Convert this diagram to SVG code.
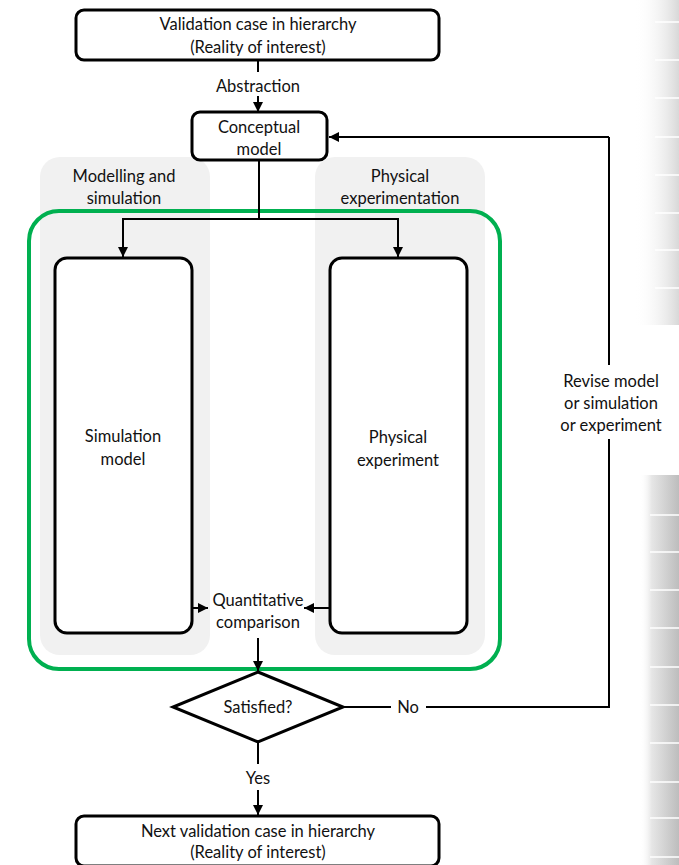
<svg xmlns="http://www.w3.org/2000/svg" width="679" height="865" viewBox="0 0 679 865">
<defs>
<marker id="ah" viewBox="0 0 10 10" refX="10" refY="5" markerWidth="10" markerHeight="10" markerUnits="userSpaceOnUse" orient="auto">
<path d="M0,0 L10,5 L0,10 z" fill="#000"/>
</marker>
<linearGradient id="edge1" x1="0" y1="0" x2="1" y2="0">
<stop offset="0" stop-color="#ffffff" stop-opacity="0"/>
<stop offset="1" stop-color="#d8d8d8"/>
</linearGradient>
<linearGradient id="edge2" x1="0" y1="0" x2="1" y2="0">
<stop offset="0" stop-color="#ffffff" stop-opacity="0"/>
<stop offset="0.3" stop-color="#e6e6e6"/>
<stop offset="1" stop-color="#bdbdbd"/>
</linearGradient>
<style>
text{font-family:Lato,"Liberation Sans",sans-serif;font-size:16.5px;fill:#111;text-anchor:middle}
.box{fill:#fff;stroke:#000;stroke-width:3}
.panel{fill:#f1f1f1;stroke:none}
.con{fill:none;stroke:#000;stroke-width:2}
.arr{fill:none;stroke:#000;stroke-width:2;marker-end:url(#ah)}
.edgeline{stroke:#fff;stroke-width:1.5}
</style>
</defs>

<g id="page-edge">
<rect x="635" y="0" width="44" height="325" fill="url(#edge1)"/>
<rect x="640" y="475" width="39" height="390" fill="url(#edge2)"/>
<g class="edgeline">
<line x1="655" y1="22" x2="679" y2="22"/><line x1="655" y1="60" x2="679" y2="60"/>
<line x1="655" y1="98" x2="679" y2="98"/><line x1="655" y1="137" x2="679" y2="137"/>
<line x1="655" y1="175" x2="679" y2="175"/><line x1="655" y1="213" x2="679" y2="213"/>
<line x1="655" y1="250" x2="679" y2="250"/><line x1="655" y1="288" x2="679" y2="288"/>
<line x1="650" y1="515" x2="679" y2="515"/><line x1="650" y1="552" x2="679" y2="552"/>
<line x1="650" y1="590" x2="679" y2="590"/><line x1="650" y1="628" x2="679" y2="628"/>
<line x1="650" y1="667" x2="679" y2="667"/><line x1="650" y1="705" x2="679" y2="705"/>
<line x1="650" y1="743" x2="679" y2="743"/><line x1="650" y1="782" x2="679" y2="782"/>
<line x1="650" y1="818" x2="679" y2="818"/><line x1="650" y1="857" x2="679" y2="857"/>
</g>
</g>

<g id="panel-modelling">
<rect class="panel" x="40" y="157" width="170" height="498" rx="20"/>
<text x="124" y="182">Modelling and</text>
<text x="124" y="204">simulation</text>
</g>
<g id="panel-physical">
<rect class="panel" x="315" y="157" width="170" height="498" rx="20"/>
<text x="400" y="182">Physical</text>
<text x="400" y="204">experimentation</text>
</g>

<g id="validation-group">
<rect x="29" y="211" width="471" height="458" rx="30" fill="none" stroke="#00b050" stroke-width="4"/>
</g>

<g id="connectors">
<line class="con" x1="258" y1="60" x2="258" y2="72"/>
<line class="arr" x1="258" y1="96" x2="258" y2="112"/>
<polyline class="con" points="259,160 259,219"/>
<polyline class="arr" points="259,219 123,219 123,257"/>
<polyline class="arr" points="259,219 398,219 398,257"/>
<line class="arr" x1="192" y1="608" x2="208" y2="608"/>
<line class="arr" x1="330" y1="608" x2="304" y2="608"/>
<line class="arr" x1="258" y1="638" x2="258" y2="671"/>
<line class="con" x1="343" y1="707" x2="391" y2="707"/>
<polyline class="con" points="426,707 609,707 609,137"/>
<line class="arr" x1="609" y1="137" x2="329" y2="137"/>
<line class="con" x1="258" y1="742" x2="258" y2="764"/>
<line class="arr" x1="258" y1="790" x2="258" y2="815"/>
</g>
<rect x="545" y="365" width="128" height="74" fill="#fff"/>

<g id="label-abstraction"><text x="258" y="92">Abstraction</text></g>
<g id="label-no"><text x="408" y="713">No</text></g>
<g id="label-yes"><text x="258" y="784">Yes</text></g>
<g id="label-revise">
<text x="611" y="387">Revise model</text>
<text x="611" y="409">or simulation</text>
<text x="611" y="431">or experiment</text>
</g>

<g id="node-validation-case">
<rect class="box" x="76" y="10" width="363" height="50" rx="8"/>
<text x="258" y="30">Validation case in hierarchy</text>
<text x="258" y="53">(Reality of interest)</text>
</g>

<g id="node-conceptual">
<rect class="box" x="192" y="112" width="135" height="48" rx="8"/>
<text x="259" y="133">Conceptual</text>
<text x="259" y="155">model</text>
</g>

<g id="node-simulation">
<rect class="box" x="55" y="258" width="137" height="375" rx="12"/>
<text x="123" y="442">Simulation</text>
<text x="123" y="465">model</text>
</g>

<g id="node-physical">
<rect class="box" x="330" y="258" width="137" height="375" rx="12"/>
<text x="398" y="443">Physical</text>
<text x="398" y="466">experiment</text>
</g>

<g id="node-comparison">
<text x="258" y="606">Quantitative</text>
<text x="258" y="628">comparison</text>
</g>

<g id="node-satisfied">
<polygon class="box" points="258,672 343,707 258,742 173,707"/>
<text x="258" y="713">Satisfied?</text>
</g>

<g id="node-next">
<rect class="box" x="76" y="816" width="363" height="50" rx="8"/>
<text x="258" y="837">Next validation case in hierarchy</text>
<text x="258" y="858">(Reality of interest)</text>
</g>
</svg>
